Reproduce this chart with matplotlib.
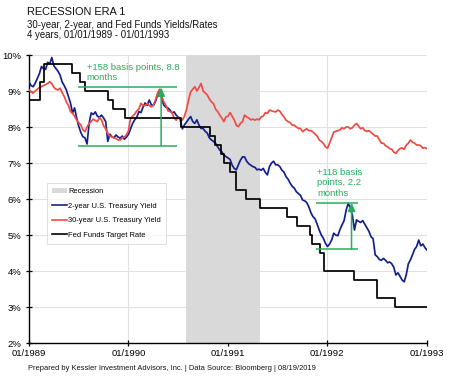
import matplotlib
matplotlib.use("Agg")
import matplotlib.pyplot as plt
import matplotlib.dates as mdates
import matplotlib.ticker as mticker
import pandas as pd
from matplotlib.patches import Patch
from matplotlib.lines import Line2D

plt.rcParams["font.family"] = ["Liberation Sans", "DejaVu Sans"]

# weekly-ish readings, 4 per month, Jan 1989 .. Dec 1992 plus the end point
two_year = [
    9.26, 9.15, 9.12, 9.22, 9.35, 9.48, 9.68, 9.62, 9.60, 9.80, 9.75, 9.93,
    9.70, 9.62, 9.55, 9.44, 9.25, 9.15, 9.03, 8.85, 8.67, 8.39, 8.53, 8.25,
    8.02, 7.85, 7.73, 7.70, 7.53, 8.10, 8.39, 8.35, 8.42, 8.30, 8.27, 8.33,
    8.25, 8.15, 7.60, 7.80, 7.73, 7.70, 7.78, 7.72, 7.69, 7.75, 7.66, 7.72,
    7.80, 7.95, 8.10, 8.20, 8.27, 8.43, 8.40, 8.55, 8.67, 8.60, 8.75, 8.62,
    8.60, 8.70, 8.89, 9.03, 8.80, 8.61, 8.55, 8.53, 8.47, 8.39, 8.42, 8.33,
    8.28, 8.19, 7.95, 8.06, 8.14, 8.22, 8.29, 8.15, 8.10, 8.20, 8.05, 7.96,
    7.96, 7.88, 7.83, 7.70, 7.64, 7.60, 7.55, 7.45, 7.36, 7.31, 7.22, 7.18,
    7.14, 7.10, 6.94, 6.85, 6.81, 6.95, 7.08, 7.17, 7.17, 7.05, 6.98, 6.94,
    6.90, 6.88, 6.81, 6.83, 6.80, 6.85, 6.74, 6.67, 6.90, 7.00, 7.05, 6.95,
    6.95, 6.90, 6.80, 6.75, 6.62, 6.55, 6.44, 6.35, 6.30, 6.20, 6.15, 6.10,
    5.97, 5.95, 5.90, 5.78, 5.62, 5.51, 5.45, 5.30, 5.14, 5.00, 4.91, 4.77,
    4.68, 4.75, 4.86, 5.05, 5.00, 4.98, 5.15, 5.28, 5.40, 5.69, 5.88, 5.75,
    5.55, 5.14, 5.42, 5.38, 5.35, 5.40, 5.30, 5.20, 5.10, 4.95, 4.90, 4.45,
    4.40, 4.32, 4.30, 4.35, 4.30, 4.23, 4.25, 4.20, 4.10, 3.89, 3.95, 3.85,
    3.75, 3.70, 3.90, 4.20, 4.31, 4.45, 4.60, 4.68, 4.86, 4.70, 4.75, 4.65,
    4.58,
]

thirty_year = [
    9.03, 8.98, 8.94, 9.00, 9.05, 9.10, 9.12, 9.15, 9.18, 9.21, 9.26, 9.20,
    9.10, 9.05, 9.03, 9.08, 8.95, 8.85, 8.70, 8.60, 8.43, 8.38, 8.30, 8.19,
    8.12, 8.06, 7.92, 7.87, 8.00, 8.10, 8.15, 8.22, 8.18, 8.15, 8.26, 8.20,
    8.03, 7.95, 7.82, 7.75, 7.73, 7.70, 7.68, 7.64, 7.64, 7.70, 7.72, 7.78,
    7.90, 8.24, 8.30, 8.36, 8.45, 8.50, 8.66, 8.60, 8.60, 8.65, 8.60, 8.56,
    8.60, 8.75, 8.94, 9.05, 8.85, 8.70, 8.61, 8.45, 8.43, 8.40, 8.25, 8.19,
    8.28, 8.22, 8.19, 8.30, 8.50, 8.75, 8.98, 9.05, 9.12, 9.00, 9.10, 9.21,
    9.00, 8.95, 8.89, 8.78, 8.70, 8.65, 8.50, 8.43, 8.33, 8.25, 8.15, 8.28,
    8.30, 8.40, 8.30, 8.20, 8.05, 8.01, 8.10, 8.15, 8.33, 8.28, 8.25, 8.20,
    8.22, 8.19, 8.22, 8.20, 8.28, 8.30, 8.40, 8.38, 8.47, 8.45, 8.43, 8.42,
    8.47, 8.44, 8.35, 8.28, 8.19, 8.15, 8.12, 8.05, 8.05, 8.00, 7.96, 7.96,
    7.87, 7.92, 7.95, 7.90, 7.90, 7.86, 7.80, 7.75, 7.64, 7.60, 7.55, 7.45,
    7.41, 7.55, 7.70, 7.86, 7.88, 7.90, 7.92, 7.98, 7.95, 8.00, 8.00, 7.95,
    7.98, 8.05, 8.10, 8.02, 7.95, 7.98, 7.90, 7.88, 7.90, 7.85, 7.80, 7.75,
    7.75, 7.65, 7.55, 7.55, 7.48, 7.45, 7.40, 7.38, 7.30, 7.27, 7.35, 7.40,
    7.42, 7.38, 7.50, 7.55, 7.64, 7.58, 7.55, 7.50, 7.50, 7.48, 7.41, 7.43,
    7.40,
]

fed_dates = [
    "1989-01-01", "1989-02-09", "1989-02-24", "1989-06-06", "1989-07-07",
    "1989-07-27", "1989-10-18", "1989-11-06", "1989-12-20", "1990-07-13",
    "1990-10-29", "1990-11-13", "1990-12-07", "1990-12-19", "1991-01-09",
    "1991-02-01", "1991-03-08", "1991-04-30", "1991-08-06", "1991-09-13",
    "1991-10-31", "1991-11-06", "1991-12-06", "1991-12-20", "1992-04-09",
    "1992-07-02", "1992-09-04", "1993-01-01",
]
fed_rate = [
    8.75, 9.25, 9.75, 9.50, 9.25, 9.00, 8.75, 8.50, 8.25, 8.00,
    7.75, 7.50, 7.25, 7.00, 6.75, 6.25, 6.00, 5.75, 5.50, 5.25,
    5.00, 4.75, 4.50, 4.00, 3.75, 3.25, 3.00, 3.00,
]

recession = ("1990-07-31", "1991-04-30")

years = ["1989-01-01", "1990-01-01", "1991-01-01", "1992-01-01", "1993-01-01"]

BLUE = "#14218c"
RED = "#ef4b45"
GREEN = "#27ad5c"
GRAY = "#d9d9d9"

dates = pd.date_range("1989-01-01", "1993-01-01", periods=len(two_year))
fed_idx = pd.to_datetime(fed_dates)
t = pd.to_datetime

fig = plt.figure(figsize=(4.49, 3.81), dpi=100)
ax = fig.add_axes([0.0646, 0.0997, 0.8864, 0.7559])

ax.axvspan(t(recession[0]), t(recession[1]), color=GRAY, lw=0, zorder=1)
ax.plot(dates, two_year, color=BLUE, lw=1.25, zorder=3)
ax.plot(dates, thirty_year, color=RED, lw=1.25, zorder=3)
ax.step(fed_idx, fed_rate, where="post", color="black", lw=1.25, zorder=4)

# annotation 1
ax.hlines([9.1, 7.48], t("1989-06-29"), t("1990-06-28"), color=GREEN, lw=1.1, zorder=5)
ax.annotate("", xy=(t("1990-05-01"), 9.1), xytext=(t("1990-05-01"), 7.48),
            arrowprops=dict(arrowstyle="-|>,head_length=0.5,head_width=0.22",
                            color=GREEN, lw=1.1, shrinkA=0, shrinkB=0), zorder=5)
ax.text(t("1989-08-01"), 9.78, "+158 basis points, 8.8\nmonths", color=GREEN,
        fontsize=6.8, va="top", ha="left", linespacing=1.15, zorder=6)

# annotation 2
ax.hlines([5.9, 4.6], t("1991-11-20"), t("1992-04-22"), color=GREEN, lw=1.1, zorder=5)
ax.annotate("", xy=(t("1992-03-30"), 5.9), xytext=(t("1992-03-30"), 4.6),
            arrowprops=dict(arrowstyle="-|>,head_length=0.5,head_width=0.22",
                            color=GREEN, lw=1.1, shrinkA=0, shrinkB=0), zorder=5)
ax.text(t("1991-11-26"), 6.85, "+118 basis\npoints, 2.2\nmonths", color=GREEN,
        fontsize=6.8, va="top", ha="left", linespacing=1.15, zorder=6)

ax.set_xlim(t(years[0]), t(years[-1]))
ax.set_ylim(2, 10)
ax.set_xticks(pd.to_datetime(years))
ax.xaxis.set_major_formatter(mdates.DateFormatter("%m/%Y"))
ax.yaxis.set_major_locator(mticker.MultipleLocator(1))
ax.yaxis.set_major_formatter(mticker.FuncFormatter(lambda v, _: f"{v:.0f}%"))
ax.tick_params(direction="inout", length=5, width=0.9, labelsize=6.8, color="black")
ax.tick_params(axis="y", pad=3)
ax.tick_params(axis="x", pad=2)

ax.set_axisbelow(True)
ax.grid(True, color="#e1e1e1", lw=0.8)
for side in ("top", "right"):
    ax.spines[side].set_visible(False)
for side in ("left", "bottom"):
    ax.spines[side].set_linewidth(1.0)
    ax.spines[side].set_color("black")

handles = [
    Patch(facecolor=GRAY, edgecolor="none"),
    Line2D([], [], color=BLUE, lw=1.2),
    Line2D([], [], color=RED, lw=1.2),
    Line2D([], [], color="black", lw=1.2),
]
labels = ["Recession", "2-year U.S. Treasury Yield", "30-year U.S. Treasury Yield",
          "Fed Funds Target Rate"]
leg = ax.legend(handles, labels, loc="upper left", bbox_to_anchor=(0.045, 0.556),
                fontsize=5.4, frameon=True, fancybox=False, edgecolor="#d0d0d0",
                handlelength=2.0, handleheight=0.6, handletextpad=0.1,
                labelspacing=1.0, borderpad=0.7, borderaxespad=0)
leg.get_frame().set_linewidth(0.6)

fig.text(27 / 449, 1 - 12 / 381, "RECESSION ERA 1", fontsize=7.9, va="center", color="#111111")
fig.text(27 / 449, 1 - 24.5 / 381, "30-year, 2-year, and Fed Funds Yields/Rates",
         fontsize=6.9, va="center", color="#111111")
fig.text(27 / 449, 1 - 34.5 / 381, "4 years, 01/01/1989 - 01/01/1993",
         fontsize=6.9, va="center", color="#111111")
fig.text(28 / 449, 1 - 368 / 381,
         "Prepared by Kessler Investment Advisors, Inc. | Data Source: Bloomberg | 08/19/2019",
         fontsize=5.4, va="center", color="#111111")

fig.savefig("out.png", dpi=100)
